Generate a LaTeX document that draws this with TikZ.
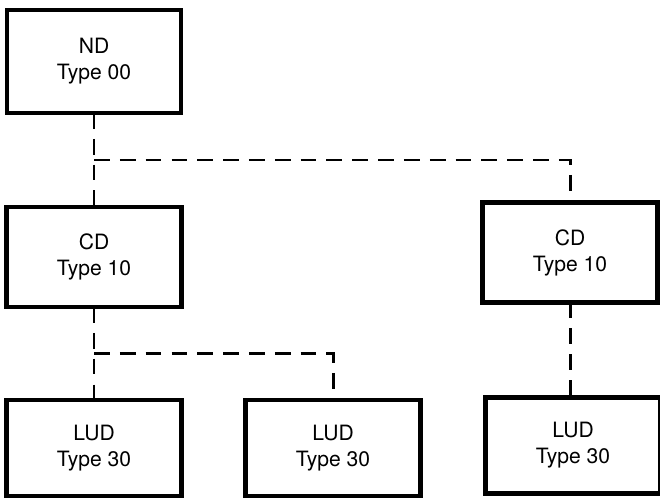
\documentclass[tikz,border=0pt]{standalone}
\usepackage{fontspec}
\setmainfont{TeX Gyre Heros}
\usetikzlibrary{positioning, calc}

\begin{document}
\begin{tikzpicture}[
  box/.style={
    draw,
    rectangle,
    line width=2.3pt,
    outer sep=0pt,
    align=center,
    minimum width=3.5cm,
    minimum height=2.0cm,
    font=\fontsize{12}{14.8}\selectfont
  },
  ludbox/.style={box, minimum height=1.92cm},
  link/.style={line width=1.7pt, dash pattern=on 9pt off 5.7pt}
]
\useasboundingbox (0,0) rectangle (13.2,-9.96);

\node[box, minimum width=3.48cm, minimum height=2.06cm] (nd) at (1.88,-1.23) {ND\\Type 00};
\node[box, below=1.88cm of nd] (cd1) {CD\\Type 10};
\node[box, right=6.02cm of cd1, yshift=0.09cm] (cd2) {CD\\Type 10};
\node[ludbox, below=1.86cm of cd1] (lud1) {LUD\\Type 30};
\node[ludbox, right=1.28cm of lud1] (lud2) {LUD\\Type 30};
\node[ludbox, below=1.9cm of cd2, xshift=0.06cm] (lud3) {LUD\\Type 30};

\coordinate (split1) at ($(nd.south)!0.5!(cd1.north)$);
\coordinate (split2) at ($(cd1.south)!0.5!(lud1.north)$);

\draw[link] (nd.south) -- (cd1.north);
\draw[link] (split1) -| (cd2.north);
\draw[link] (cd1.south) -- (lud1.north);
\draw[link] (split2) -| (lud2.north);
\draw[link] (cd2.south) -- (cd2.south |- lud3.north);

\end{tikzpicture}
\end{document}
